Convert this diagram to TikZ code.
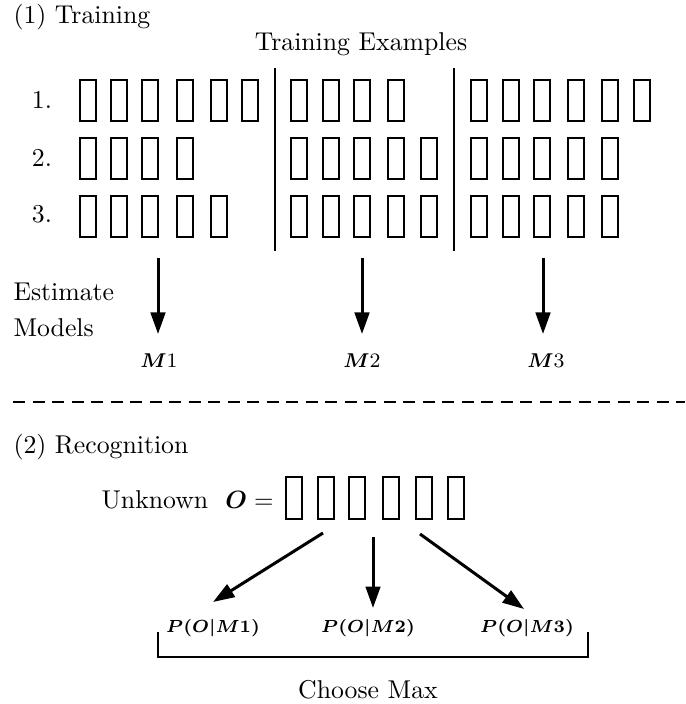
\documentclass[tikz,border=0pt]{standalone}
\usepackage{bm}
\usetikzlibrary{arrows.meta}
\tikzset{
  cell/.style={draw, line width=0.8pt, minimum width=6.2pt, minimum height=16.6pt, inner sep=0pt, anchor=north west},
  divider/.style={line width=0.8pt},
  arr/.style={line width=1.2pt, -{Triangle[length=8.6pt,width=5.8pt]}},
  lbl/.style={inner sep=0pt, font=\fontsize{10.3}{12.4}\selectfont},
  mlbl/.style={inner sep=0pt, font=\fontsize{8.2}{10}\selectfont},
  plbl/.style={inner sep=0pt, font=\fontsize{7}{9}\selectfont},
  sep/.style={line width=0.8pt, dash pattern=on 4.8pt off 3pt},
  brace/.style={line width=0.9pt}
}
\begin{document}
\begin{tikzpicture}[x=0.4pt,y=-0.4pt]
\useasboundingbox (0,0) rectangle (685,704);

% ---- (1) Training
\node[lbl, anchor=west] (sec1) at (13,17) {(1) Training};
\node[lbl] (ex) at (361,44) {Training Examples};

\node[lbl] (n1) at (42,100) {1.};
\node[lbl] (n2) at (42,158) {2.};
\node[lbl] (n3) at (42,214) {3.};

% row 1
\foreach \x [count=\i] in {79,110,141,176,210,241} \node[cell] (r1a\i) at (\x,79) {};
\foreach \x [count=\i] in {290,322,353,387} \node[cell] (r1b\i) at (\x,79) {};
\foreach \x [count=\i] in {470,502,533,567,601,633} \node[cell] (r1c\i) at (\x,79) {};
% row 2
\foreach \x [count=\i] in {79,110,141,176} \node[cell] (r2a\i) at (\x,137) {};
\foreach \x [count=\i] in {290,322,353,387,420} \node[cell] (r2b\i) at (\x,137) {};
\foreach \x [count=\i] in {470,502,533,567,601} \node[cell] (r2c\i) at (\x,137) {};
% row 3
\foreach \x [count=\i] in {79,110,141,176,210} \node[cell] (r3a\i) at (\x,195) {};
\foreach \x [count=\i] in {290,322,353,387,420} \node[cell] (r3b\i) at (\x,195) {};
\foreach \x [count=\i] in {470,502,533,567,601} \node[cell] (r3c\i) at (\x,195) {};

% dividers
\draw[divider] (275,68) -- (275,251);
\draw[divider] (454,68) -- (454,251);

% estimate models
\node[lbl, anchor=west] (est) at (13,292) {Estimate};
\node[lbl, anchor=west] (mod) at (13,328) {Models};

\node[mlbl] (M1) at (159,361) {$\bm{M}$1};
\node[mlbl] (M2) at (362,361) {$\bm{M}$2};
\node[mlbl] (M3) at (546,361) {$\bm{M}$3};

\coordinate (t1s) at (158,258); \coordinate (t1e) at (158,334);
\coordinate (t2s) at (362,258); \coordinate (t2e) at (362,334);
\coordinate (t3s) at (543,258); \coordinate (t3e) at (543,334);
\draw[arr] (t1s) -- (t1e);
\draw[arr] (t2s) -- (t2e);
\draw[arr] (t3s) -- (t3e);

% separator
\draw[sep] (13,402) -- (685,402);

% ---- (2) Recognition
\node[lbl, anchor=west] (sec2) at (13,447) {(2) Recognition};
\node[lbl, anchor=east] (unk) at (274,500) {Unknown \ $\bm{O}=$};
\foreach \x [count=\i] in {285,317,348,382,415,447} \node[cell] (o\i) at (\x,476) {};

\coordinate (b1s) at (323,533); \coordinate (b1e) at (213,602);
\coordinate (b2s) at (373,537); \coordinate (b2e) at (373,608);
\coordinate (b3s) at (420,534); \coordinate (b3e) at (524,609);
\draw[arr] (b1s) -- (b1e);
\draw[arr] (b2s) -- (b2e);
\draw[arr] (b3s) -- (b3e);

\node[plbl] (P1) at (213,628) {$\bm{P(O|M}\mathbf{1}\bm{)}$};
\node[plbl] (P2) at (368,628) {$\bm{P(O|M}\mathbf{2}\bm{)}$};
\node[plbl] (P3) at (527,628) {$\bm{P(O|M}\mathbf{3}\bm{)}$};

\draw[brace] (158,632) -- (158,657) -- (588,657) -- (588,632);
\node[lbl] (cm) at (368,690) {Choose Max};
\end{tikzpicture}
\end{document}
